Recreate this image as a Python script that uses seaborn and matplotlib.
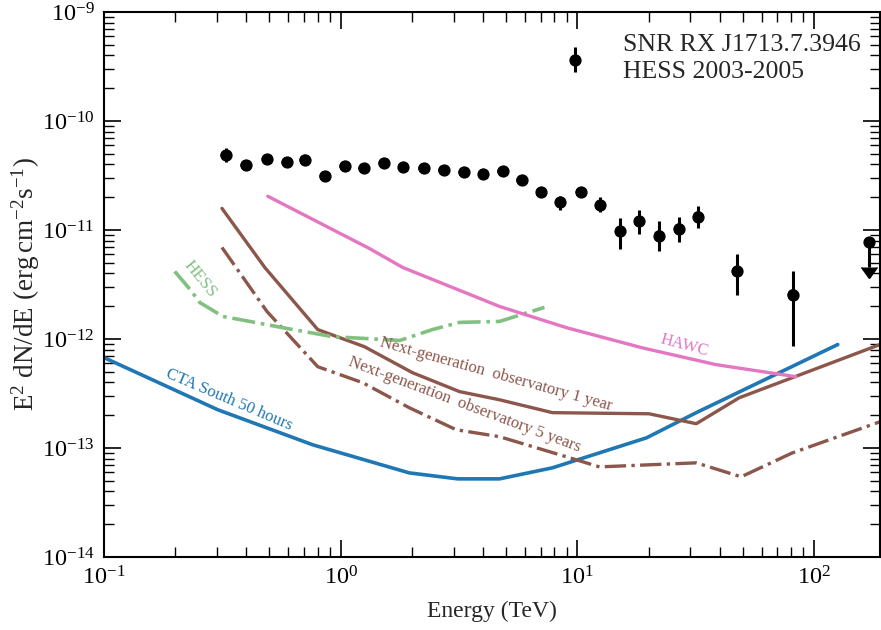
import numpy as np
import pandas as pd
import matplotlib
matplotlib.use("Agg")
import matplotlib.pyplot as plt
import seaborn as sns
from matplotlib import lines as mlines
from matplotlib.ticker import LogLocator, LogFormatterMathtext, NullFormatter

# ---------------- data ----------------
hess_E = [0.327, 0.397, 0.488, 0.592, 0.705, 0.856, 1.04, 1.25, 1.52, 1.84, 2.24, 2.72,
          3.31, 4.01, 4.83, 5.81, 7.05, 8.47, 9.8, 10.35, 12.5, 15.2, 18.3, 22.2, 26.9,
          32.4, 47.3, 81.4]
hess_F = [4.85e-11, 3.93e-11, 4.46e-11, 4.18e-11, 4.40e-11, 3.11e-11, 3.85e-11, 3.68e-11,
          4.10e-11, 3.77e-11, 3.68e-11, 3.53e-11, 3.39e-11, 3.26e-11, 3.45e-11, 2.86e-11,
          2.22e-11, 1.79e-11, 3.62e-10, 2.22e-11, 1.68e-11, 9.7e-12, 1.20e-11, 8.9e-12,
          1.03e-11, 1.33e-11, 4.17e-12, 2.56e-12]
hess_lo = [4.18e-11, 3.70e-11, 4.20e-11, 3.93e-11, 4.14e-11, 2.92e-11, 3.62e-11, 3.46e-11,
           3.85e-11, 3.54e-11, 3.46e-11, 3.30e-11, 3.17e-11, 3.05e-11, 3.20e-11, 2.62e-11,
           2.00e-11, 1.51e-11, 2.81e-10, 2.00e-11, 1.45e-11, 6.64e-12, 9.1e-12, 6.36e-12,
           7.69e-12, 1.04e-11, 2.51e-12, 8.7e-13]
hess_hi = [5.62e-11, 4.17e-11, 4.73e-11, 4.43e-11, 4.66e-11, 3.30e-11, 4.08e-11, 3.90e-11,
           4.35e-11, 4.00e-11, 3.90e-11, 3.76e-11, 3.62e-11, 3.48e-11, 3.70e-11, 3.12e-11,
           2.41e-11, 2.04e-11, 4.76e-10, 2.45e-11, 2.00e-11, 1.28e-11, 1.51e-11, 1.20e-11,
           1.33e-11, 1.65e-11, 5.97e-12, 4.17e-12]

ul_E = [171.0]
ul_F = [7.7e-12]
ul_tip = [4.6e-12]

cta_E = [0.1, 0.303, 0.762, 1.95, 3.12, 4.69, 7.85, 19.6, 31.8, 126.0]
cta_F = [6.75e-13, 2.24e-13, 1.07e-13, 5.91e-14, 5.21e-14, 5.21e-14, 6.58e-14, 1.24e-13,
         2.11e-13, 8.9e-13]

ng1_E = [0.315, 0.478, 0.80, 1.26, 2.01, 3.18, 4.69, 7.85, 20.1, 31.8, 48.3, 80.8, 190.0]
ng1_F = [1.58e-11, 4.53e-12, 1.22e-12, 8.5e-13, 4.91e-13, 3.29e-13, 2.77e-13, 2.11e-13,
         2.06e-13, 1.67e-13, 2.89e-13, 4.41e-13, 8.9e-13]

ng5_E = [0.315, 0.488, 0.80, 1.24, 1.95, 3.08, 4.69, 9.0, 12.4, 31.8, 49.2, 80.8, 190.0]
ng5_F = [6.92e-12, 1.79e-12, 5.57e-13, 3.97e-13, 2.34e-13, 1.47e-13, 1.27e-13, 8.3e-14,
         6.71e-14, 7.31e-14, 5.44e-14, 9.0e-14, 1.74e-13]

hessS_E = [0.199, 0.231, 0.254, 0.318, 0.413, 0.569, 0.925, 1.78, 2.44, 3.18, 4.69, 7.26]
hessS_F = [4.17e-12, 2.85e-12, 2.16e-12, 1.61e-12, 1.45e-12, 1.27e-12, 1.05e-12, 9.7e-13,
           1.22e-12, 1.42e-12, 1.45e-12, 1.95e-12]

hawc_E = [0.492, 1.32, 1.83, 4.69, 9.0, 18.8, 38.5, 83.9]
hawc_F = [2.04e-11, 6.78e-12, 4.53e-12, 1.99e-12, 1.27e-12, 8.3e-13, 5.82e-13, 4.51e-13]

x_label = "Energy (TeV)"
y_label = r"E$^2$ dN/dE (erg$\,$cm$^{-2}$s$^{-1}$)"
title_lines = ["SNR RX J1713.7.3946", "HESS 2003-2005"]

# ---------------- style ----------------
sns.set_theme(style="ticks")
plt.rcParams["font.family"] = ["Liberation Serif", "DejaVu Serif"]
plt.rcParams["mathtext.fontset"] = "custom"
plt.rcParams["mathtext.rm"] = "Liberation Serif"
plt.rcParams["mathtext.it"] = "Liberation Serif:italic"
plt.rcParams["mathtext.bf"] = "Liberation Serif:bold"
plt.rcParams["mathtext.default"] = "regular"

BLUE = "#1f77b4"
BROWN = "#8c564b"
PINK = "#e377c2"
GREEN = "#82c082"

fig = plt.figure(figsize=(8.81, 6.30), dpi=100)
ax = fig.add_axes([104 / 881, 1 - 557 / 630, (880 - 104) / 881, (557 - 12) / 630])
ax.set_xscale("log")
ax.set_yscale("log")
ax.set_xlim(0.1, 190)
ax.set_ylim(1e-14, 1e-9)

def curve(E, F, color, ls, lw=2.3):
    df = pd.DataFrame({"E": E, "F": F})
    sns.lineplot(data=df, x="E", y="F", ax=ax, color=color, linestyle=ls, lw=lw,
                 sort=False, estimator=None)

curve(cta_E, cta_F, BLUE, "-", 2.6)
curve(ng1_E, ng1_F, BROWN, "-", 2.4)
curve(ng5_E, ng5_F, BROWN, "-.", 2.4)
curve(hessS_E, hessS_F, GREEN, "-.", 2.6)
curve(hawc_E, hawc_F, PINK, "-", 2.4)

# data points
E = np.array(hess_E); F = np.array(hess_F)
yerr = np.vstack([F - np.array(hess_lo), np.array(hess_hi) - F])
ax.errorbar(E, F, yerr=yerr, fmt="o", color="black", ms=7.8, elinewidth=2.2,
            capsize=0, zorder=5)
sns.scatterplot(x=hess_E, y=hess_F, ax=ax, color="black", s=60, edgecolor="none", zorder=6)

# upper limit
ax.vlines(ul_E, ul_tip, ul_F, color="black", lw=2.2, zorder=5)
ax.plot(ul_E, ul_F, "o", color="black", ms=7.8, zorder=6)
ax.plot(ul_E, ul_tip, marker=mlines.CARETDOWNBASE, color="black", ms=11, ls="none", zorder=6)

# curve labels
ax.text(0.336, 2.77e-13, "CTA South 50 hours", color=BLUE, fontsize=12, rotation=-23,
        ha="center", va="center", rotation_mode="anchor")
ax.text(0.254, 3.52e-12, "HESS", color=GREEN, fontsize=12.5, rotation=-51,
        ha="center", va="center", rotation_mode="anchor")
ax.text(4.51, 4.71e-13, "Next-generation  observatory 1 year", color=BROWN, fontsize=12,
        rotation=-15.5, ha="center", va="center", rotation_mode="anchor")
ax.text(3.33, 2.49e-13, "Next-generation  observatory 5 years", color=BROWN, fontsize=12,
        rotation=-20.5, ha="center", va="center", rotation_mode="anchor")
ax.text(28.2, 8.7e-13, "HAWC", color=PINK, fontsize=12, rotation=-15,
        ha="center", va="center", rotation_mode="anchor")

ax.text(0.669, 0.939, title_lines[0], transform=ax.transAxes, fontsize=18.5,
        ha="left", va="center")
ax.text(0.669, 0.889, title_lines[1], transform=ax.transAxes, fontsize=18.5,
        ha="left", va="center")

# axes styling
ax.set_xlabel(x_label, fontsize=17, labelpad=8)
ax.set_ylabel(y_label, fontsize=19.5)
ax.yaxis.set_label_coords((42 - 104) / 776, 0.5)
ax.xaxis.set_major_locator(LogLocator(base=10, numticks=10))
ax.xaxis.set_minor_locator(LogLocator(base=10, subs=np.arange(2, 10), numticks=20))
ax.yaxis.set_major_locator(LogLocator(base=10, numticks=10))
ax.yaxis.set_minor_locator(LogLocator(base=10, subs=np.arange(2, 10), numticks=20))
ax.xaxis.set_major_formatter(LogFormatterMathtext())
ax.yaxis.set_major_formatter(LogFormatterMathtext())
ax.xaxis.set_minor_formatter(NullFormatter())
ax.yaxis.set_minor_formatter(NullFormatter())
ax.tick_params(which="both", direction="in", top=True, right=True, colors="black",
               labelsize=17.5)
ax.tick_params(which="major", length=12, width=1.2, pad=7)
ax.tick_params(which="minor", length=7.5, width=1.0, labelbottom=False, labelleft=False)
for s in ax.spines.values():
    s.set_linewidth(1.5)
    s.set_color("black")
ax.grid(False)

fig.savefig("out.png", dpi=100)
